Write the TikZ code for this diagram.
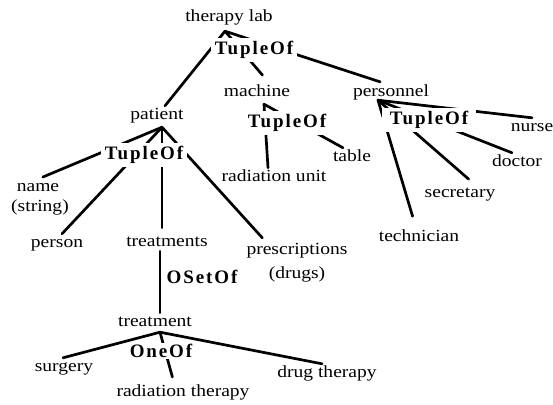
\documentclass[tikz,border=0pt]{standalone}
\usepackage{fontspec}
\setmainfont[FakeStretch=1.15]{Liberation Serif}
\newfontfamily\consfont[LetterSpace=10,UprightFont={* Bold}]{Liberation Serif}
\begin{document}
\begin{tikzpicture}[x=1pt,y=-1pt,
  lbl/.style={font=\fontsize{17}{20}\selectfont, inner sep=1pt, text height=12pt, text depth=4pt},
  cons/.style={font=\consfont\fontsize{19}{22}\selectfont, fill=white, inner xsep=4pt, inner ysep=3pt},
  link/.style={line width=2.7pt, line cap=round}]
\useasboundingbox (0,0) rectangle (553,404);

% entity and attribute labels
\node[lbl] (tl) at (229,18) {therapy lab};
\node[lbl] (machine) at (257,92) {machine};
\node[lbl] (personnel) at (391,92) {personnel};
\node[lbl] (patient) at (157,115) {patient};
\node[lbl] (table) at (352,157) {table};
\node[lbl] (radunit) at (274,177) {radiation unit};
\node[lbl] (nurse) at (532,127) {nurse};
\node[lbl] (doctor) at (517,162) {doctor};
\node[lbl] (secretary) at (460,193) {secretary};
\node[lbl] (technician) at (419,237) {technician};
\node[lbl] (name) at (38,187) {name};
\node[lbl] (string) at (40,207) {(string)};
\node[lbl] (person) at (57,243) {person};
\node[lbl] (treatments) at (167,242) {treatments};
\node[lbl] (presc) at (297,250) {prescriptions};
\node[lbl] (drugs) at (297,274) {(drugs)};
\node[lbl] (treatment) at (155,322) {treatment};
\node[lbl] (surgery) at (64,367) {surgery};
\node[lbl] (radtherapy) at (183,392) {radiation therapy};
\node[lbl] (drug) at (327,373) {drug therapy};

% fan-out points just below each composite type
\coordinate (a1) at ([xshift=-4pt,yshift=-4pt]tl.south);
\coordinate (a2) at ([xshift=7pt,yshift=-3pt]machine.south);
\coordinate (a3) at ([xshift=-13pt,yshift=1pt]personnel.south);
\coordinate (a4) at ([xshift=5pt,yshift=-3pt]patient.south);
\coordinate (a5) at ([xshift=5pt,yshift=-1pt]treatment.south);

% therapy lab
\draw[link] (a1) -- ([xshift=8pt]patient.north);
\draw[link,shorten >=10pt] (a1) -- ([xshift=12pt]machine.north);
\draw[link,shorten >=3pt] (a1) -- ([xshift=-8pt]personnel.north);
% machine
\draw[link] (a2) -- ([xshift=-6pt]radunit.north);
\draw[link] (a2) -- ([xshift=-9pt]table.north);
% personnel
\draw[link,shorten >=12pt] (a3) -- ([xshift=-3pt]technician.north);
\draw[link,shorten >=7pt] (a3) -- ([xshift=14pt]secretary.north);
\draw[link] (a3) -- ([xshift=-5pt]doctor.north);
\draw[link] (a3) -- (nurse.north);
% patient
\draw[link,shorten >=2pt] (a4) -- ([xshift=3pt]name.north);
\draw[link] (a4) -- ([xshift=5pt]person.north);
\draw[link,shorten >=5pt] (a4) -- ([xshift=-5pt]treatments.north);
\draw[link,shorten >=4pt] (a4) -- ([xshift=-32pt]presc.north);
% treatments -> treatment
\draw[link] ([xshift=-7pt]treatments.south) -- ([xshift=5pt]treatment.north);
% treatment
\draw[link] (a5) -- ([xshift=-1pt]surgery.north);
\draw[link,shorten >=6pt] (a5) -- ([xshift=-9pt]radtherapy.north);
\draw[link] (a5) -- ([xshift=-5pt]drug.north);

% type constructors, set over the fan-out lines
\node[cons] (tup1) at (254,50) {TupleOf};
\node[cons] (tup2) at (287,123) {TupleOf};
\node[cons,inner xsep=8pt] (tup3) at (429,120) {TupleOf};
\node[cons] (tup4) at (144,155) {TupleOf};
\node[cons,inner ysep=1pt] (oneof) at (161,351) {OneOf};
\node[cons] (oset) at (202,277) {OSetOf};
\end{tikzpicture}
\end{document}
